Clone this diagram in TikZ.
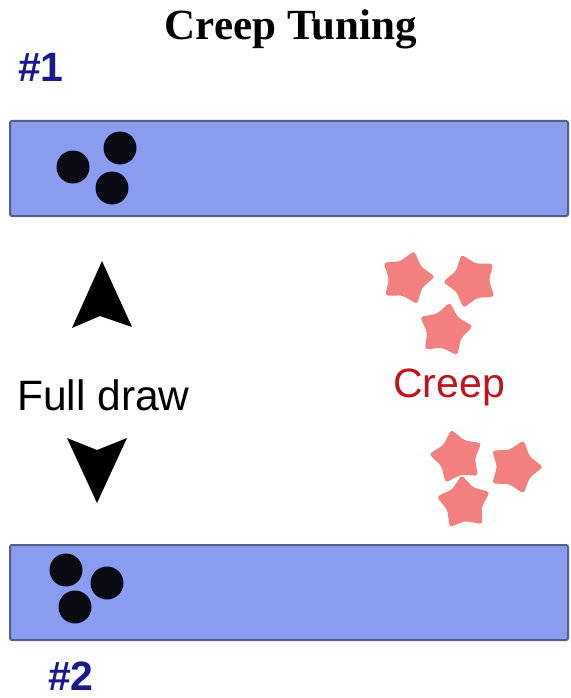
\documentclass[tikz,border=0pt]{standalone}
\usepackage{fontspec}
\setmainfont{Liberation Serif}
\newfontfamily\sansf{Liberation Sans}
\usetikzlibrary{shapes.geometric}
\definecolor{barfill}{RGB}{138,156,240}
\definecolor{barline}{RGB}{88,96,130}
\definecolor{navylab}{RGB}{26,26,140}
\definecolor{creepred}{RGB}{192,20,28}
\definecolor{starcol}{RGB}{242,128,128}
\definecolor{dotcol}{RGB}{10,10,20}
\tikzset{
  bar/.style={draw=barline, line width=2pt, fill=barfill, rounded corners=2pt},
  dot/.style={circle, fill=dotcol, minimum size=33pt, inner sep=0pt},
  starnode/.style={star, star points=5, star point ratio=1.55, minimum size=56pt, inner sep=0pt, fill=starcol, rounded corners=3pt},
  lab/.style={inner sep=0pt, anchor=base west},
  arrowshape/.style={fill=black}
}
\begin{document}
\begin{tikzpicture}[x=1pt,y=-1pt]
\useasboundingbox (0,0) rectangle (570,698);
% title
\node[inner sep=0pt, anchor=base] (title) at (291,40) {\fontsize{43}{43}\selectfont\bfseries Creep Tuning};
\node[lab, text=navylab] (n1) at (18,82) {\sansf\bfseries\fontsize{41}{41}\selectfont \#1};
\node[lab, text=navylab] (n2) at (48,690) {\sansf\bfseries\fontsize{41}{41}\selectfont \#2};
% bars
\draw[bar] (10,121) rectangle (568,216);
\draw[bar] (10,545) rectangle (568,640);
% dots top
\node[dot] (d1) at (73,167) {};
\node[dot] (d2) at (120,148) {};
\node[dot] (d3) at (112,188) {};
% dots bottom
\node[dot] (d4) at (66,570) {};
\node[dot] (d5) at (107,583) {};
\node[dot] (d6) at (75,607) {};
% arrows
\fill[arrowshape] (102,261) -- (132,327) -- (100,316) -- (72,328) -- cycle;
\fill[arrowshape] (97,503) -- (127,438) -- (97,450) -- (67,438) -- cycle;
% labels
\node[lab] (full) at (17,410) {\sansf\fontsize{42.5}{42.5}\selectfont Full draw};
\node[lab, text=creepred] (creep) at (393,397) {\sansf\fontsize{41}{41}\selectfont Creep};
% stars
\node[starnode, rotate=-15] (s1) at (407,278) {};
\node[starnode, rotate=20] (s2) at (471,281) {};
\node[starnode, rotate=-10] (s3) at (445,330) {};
\node[starnode, rotate=12] (s4) at (457,457) {};
\node[starnode, rotate=-18] (s5) at (515,467) {};
\node[starnode, rotate=5] (s6) at (464,503) {};
\end{tikzpicture}
\end{document}
